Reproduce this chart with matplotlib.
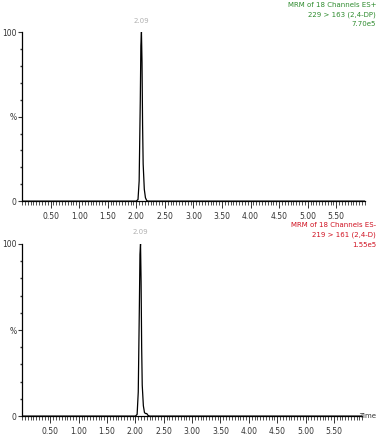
import matplotlib.pyplot as plt
from matplotlib.ticker import MultipleLocator, FixedLocator

# chromatogram traces (time in min, intensity in %)
time_top = [0.00, 1.00, 2.00, 2.03, 2.05, 2.07, 2.08, 2.09, 2.10, 2.11, 2.12, 2.14, 2.16, 2.18, 2.20, 3.00, 6.00]
signal_top = [0.0, 0.0, 0.0, 1.0, 12.0, 60.0, 92.0, 100.0, 82.0, 45.0, 22.0, 7.0, 2.0, 0.5, 0.0, 0.0, 0.0]

time_bot = [0.00, 1.00, 2.00, 2.03, 2.05, 2.07, 2.08, 2.09, 2.10, 2.11, 2.12, 2.14, 2.16, 2.18, 2.20, 2.22, 2.25, 3.00, 6.00]
signal_bot = [0.0, 0.0, 0.0, 1.0, 14.0, 65.0, 94.0, 100.0, 78.0, 40.0, 18.0, 6.0, 2.0, 1.5, 1.5, 0.5, 0.0, 0.0, 0.0]

peak_rt = [2.09, 2.09]
peak_labels = ['2.09', '2.09']

header_lines = [
    ['MRM of 18 Channels ES+', '229 > 163 (2,4-DP)', '7.70e5'],
    ['MRM of 18 Channels ES-', '219 > 161 (2,4-D)', '1.55e5'],
]
header_colors = ['#2e8b2e', '#d01020']

x_ticks = [0.5, 1.0, 1.5, 2.0, 2.5, 3.0, 3.5, 4.0, 4.5, 5.0, 5.5]
x_ticklabels = ['0.50', '1.00', '1.50', '2.00', '2.50', '3.00', '3.50', '4.00', '4.50', '5.00', '5.50']

plt.rcParams['font.family'] = ['Liberation Sans Narrow', 'DejaVu Sans']

W, H = 376, 446
fig = plt.figure(figsize=(W / 100, H / 100), dpi=100)
ax_top = fig.add_axes([0.0585, 0.549, 0.912, 0.379])
ax_bot = fig.add_axes([0.0585, 0.067, 0.905, 0.386])

traces = [(time_top, signal_top), (time_bot, signal_bot)]
# header line centres in pixels from the top of the picture
header_y = [[5, 15, 24], [225, 235, 245]]

for i, ax in enumerate([ax_top, ax_bot]):
    t, s = traces[i]
    ax.plot(t, s, color='black', lw=0.9)
    ax.set_xlim(0, 6.0)
    ax.set_ylim(0, 100)

    for side in ['top', 'right']:
        ax.spines[side].set_visible(False)
    for side in ['left', 'bottom']:
        ax.spines[side].set_linewidth(0.9)

    # x axis ticks
    ax.xaxis.set_major_locator(FixedLocator(x_ticks))
    ax.set_xticklabels(x_ticklabels)
    ax.xaxis.set_minor_locator(MultipleLocator(0.05))
    ax.tick_params(axis='x', which='major', length=5, width=0.7, labelsize=5.5, pad=3, colors='#333333')
    ax.tick_params(axis='x', which='minor', length=3, width=0.6, colors='#333333')

    # y axis ticks
    ax.yaxis.set_major_locator(FixedLocator([0, 50, 100]))
    ax.set_yticklabels(['0', '%', '100'])
    ax.yaxis.set_minor_locator(MultipleLocator(10))
    ax.tick_params(axis='y', which='major', length=3, width=0.8, labelsize=5.5, pad=1, colors='#333333')
    ax.tick_params(axis='y', which='minor', length=1.5, width=1.0, colors='#333333')

    # peak label
    ax.text(peak_rt[i], 105, peak_labels[i], ha='center', va='bottom', fontsize=5,
            color='#b0b0b0', clip_on=False)

    # header text, right-aligned against the image edge
    for j, line in enumerate(header_lines[i]):
        fig.text(1.0, 1 - header_y[i][j] / H, line, ha='right', va='center', fontsize=5,
                 color=header_colors[i])

fig.text(0.999, 1 - 416 / H, 'Time', ha='right', va='center', fontsize=5, color='#333333')

fig.savefig('out.png', dpi=100)
